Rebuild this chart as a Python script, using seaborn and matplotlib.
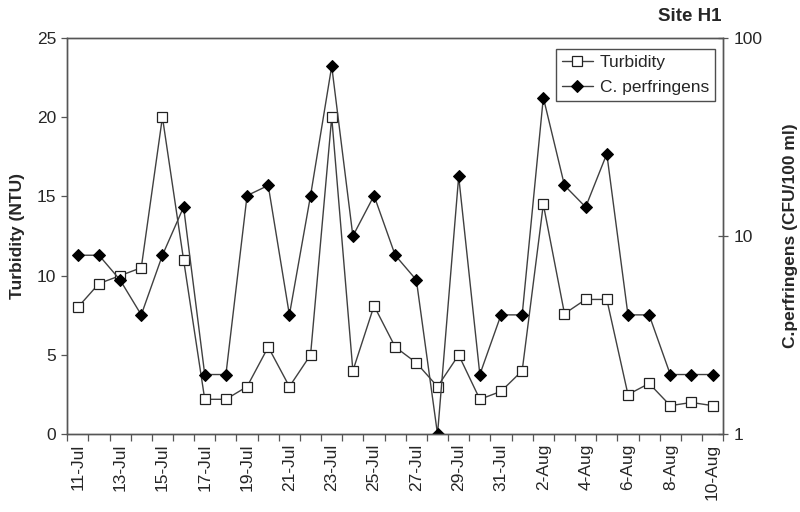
import numpy as np
import pandas as pd
import seaborn as sns
import matplotlib
matplotlib.use("Agg")
import matplotlib.pyplot as plt
from matplotlib.ticker import FixedLocator, NullLocator, FixedFormatter

sns.set_style("ticks")
plt.rcParams["font.family"] = ["Liberation Sans", "DejaVu Sans"]

# data
dates = pd.date_range("2007-07-11", "2007-08-10", freq="D")
date_labels = [f"{d.day}-{d.strftime('%b')}" for d in dates]
turbidity = [8.0, 9.5, 10.0, 10.5, 20.0, 11.0, 2.2, 2.2, 3.0, 5.5, 3.0,
             5.0, 20.0, 4.0, 8.1, 5.5, 4.5, 3.0, 5.0, 2.2, 2.7, 4.0,
             14.5, 7.6, 8.5, 8.5, 2.5, 3.2, 1.8, 2.0, 1.8]
perfringens = [8, 8, 6, 4, 8, 14, 2, 2, 16, 18, 4,
               16, 72, 10, 16, 8, 6, 1, 20, 2, 4, 4,
               50, 18, 14, 26, 4, 4, 2, 2, 2]

df = pd.DataFrame({"day": np.arange(len(dates)), "label": date_labels,
                   "turbidity": turbidity, "perfringens": perfringens})

line_col = "#404040"
axis_col = "#555555"
fs = 12.5

fig, ax1 = plt.subplots(figsize=(8, 5.12), dpi=100)
fig.subplots_adjust(left=0.084, right=0.904, top=0.926, bottom=0.152)
ax2 = ax1.twinx()

sns.lineplot(data=df, x="day", y="turbidity", ax=ax1, sort=False,
             color=line_col, lw=1, marker="s", markersize=7,
             markerfacecolor="white", markeredgecolor="#222222",
             markeredgewidth=0.9, label="Turbidity", legend=False)
sns.lineplot(data=df, x="day", y="perfringens", ax=ax2, sort=False,
             color=line_col, lw=1, marker="D", markersize=6.5,
             markerfacecolor="black", markeredgecolor="black",
             label="C. perfringens", legend=False)

n = len(df)
ax1.set_xlim(-0.5, n - 0.5)
ax1.set_ylim(0, 25)
ax1.set_yticks([0, 5, 10, 15, 20, 25])
ax2.set_yscale("log")
ax2.set_ylim(1, 100)
ax2.yaxis.set_major_locator(FixedLocator([1, 10, 100]))
ax2.yaxis.set_major_formatter(FixedFormatter(["1", "10", "100"]))
ax2.yaxis.set_minor_locator(NullLocator())

# labels at every other category centre, tick marks at category boundaries
ax1.xaxis.set_major_locator(FixedLocator(df["day"][::2].tolist()))
ax1.xaxis.set_major_formatter(FixedFormatter(df["label"][::2].tolist()))
ax1.xaxis.set_minor_locator(FixedLocator(np.arange(-0.5, n, 1.0)))
ax1.tick_params(axis="x", which="major", length=0, labelrotation=90,
                labelsize=fs, pad=7)
ax1.tick_params(axis="x", which="minor", length=5, width=0.9,
                color=axis_col, direction="out")
ax1.tick_params(axis="y", labelsize=fs, length=4, width=0.9,
                color=axis_col, pad=4)
ax2.tick_params(axis="y", labelsize=fs, length=7, width=0.9,
                color=axis_col, direction="inout", pad=4)

ax1.set_xlabel("")
ax1.set_ylabel("Turbidity (NTU)", fontsize=fs, fontweight="bold", labelpad=8)
ax2.set_ylabel("C.perfringens (CFU/100 ml)", fontsize=fs, fontweight="bold",
               labelpad=15)

for ax in (ax1, ax2):
    for s in ax.spines.values():
        s.set_color(axis_col)
        s.set_linewidth(1)

h1, l1 = ax1.get_legend_handles_labels()
h2, l2 = ax2.get_legend_handles_labels()
leg = ax2.legend(h1 + h2, l1 + l2, loc="upper right",
                 bbox_to_anchor=(0.996, 0.985), fontsize=fs,
                 frameon=True, fancybox=False, edgecolor="#222222",
                 handlelength=1.8, handletextpad=0.4, borderpad=0.35,
                 labelspacing=0.55, borderaxespad=0.3)
leg.get_frame().set_linewidth(1)

fig.text(0.902, 0.968, "Site H1", ha="right", va="center",
         fontsize=13.5, fontweight="bold")

fig.savefig("out.png", dpi=100)
